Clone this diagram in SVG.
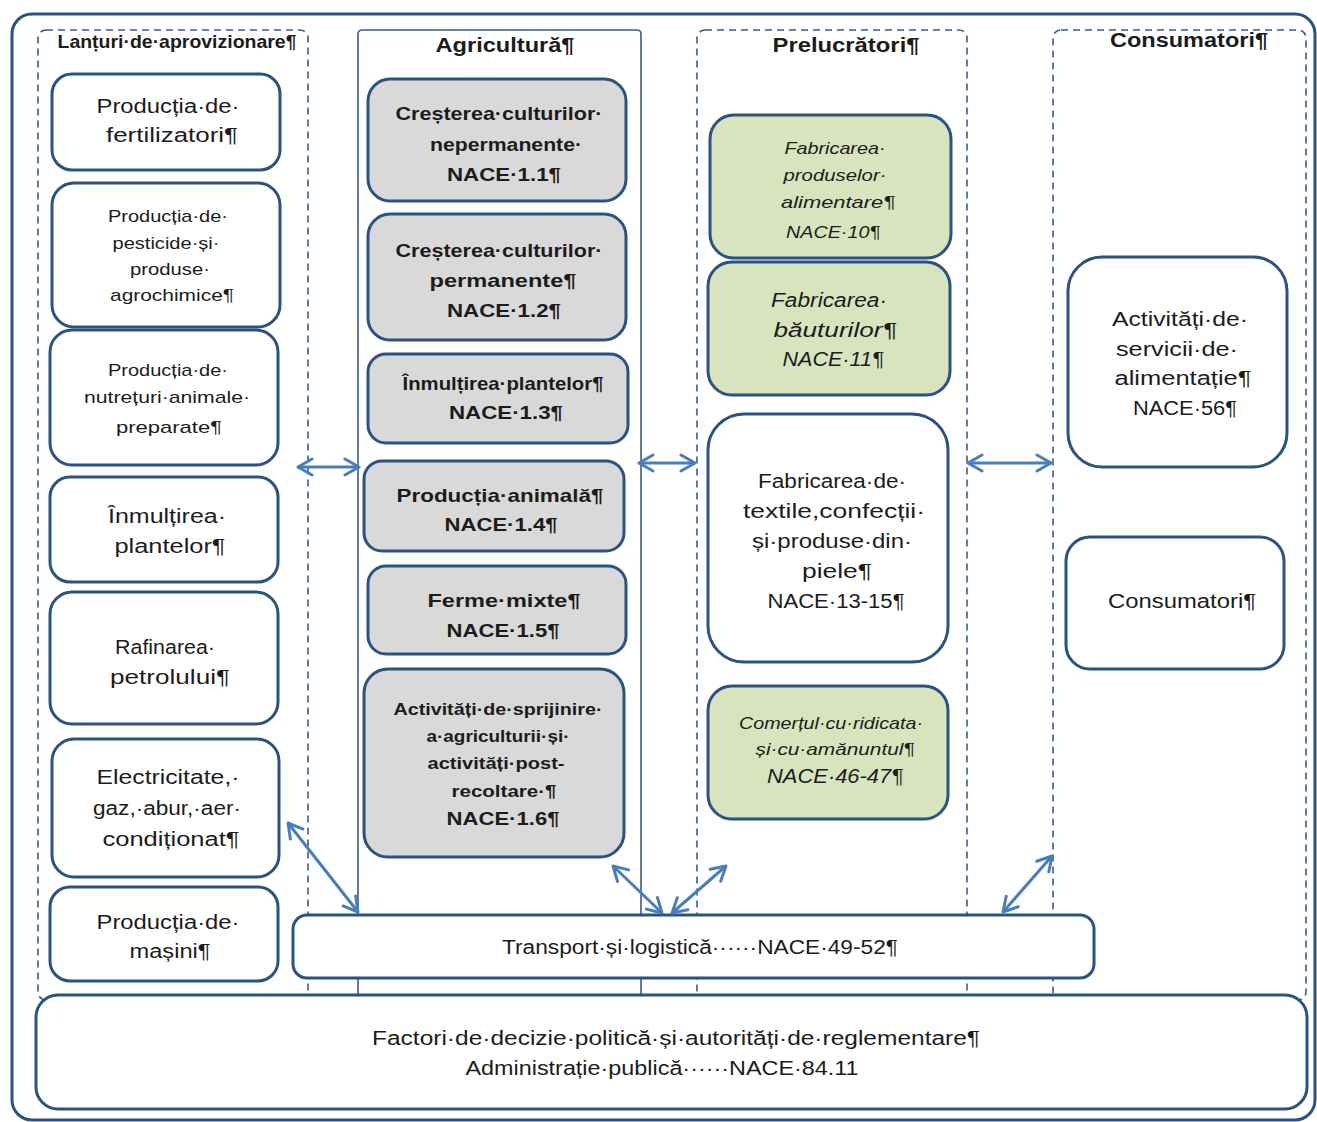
<svg xmlns="http://www.w3.org/2000/svg" width="1317" height="1122" viewBox="0 0 1317 1122">
<defs>
<style>
.t{font-family:"Liberation Sans",Arial,sans-serif;font-size:19.5px;fill:#1c1c1c;text-anchor:middle}
.s{font-size:17px}
.b{font-weight:bold;font-size:18.5px}
.b.s{font-size:16.5px}
.i{font-style:italic}
.tt{font-weight:bold;font-size:20px}
.box{fill:#fff;stroke:#2c5282;stroke-width:3}
.gray{fill:#d9d9d9;stroke:#2c5282;stroke-width:3}
.green{fill:#d7e4bd;stroke:#2c5282;stroke-width:3}
.dash{fill:none;stroke:#3a5a8c;stroke-width:1.6;stroke-dasharray:7 5}
.solid{fill:none;stroke:#3a5a8c;stroke-width:1.6}
.arr{fill:none;stroke:#4a7ebb;stroke-width:3;marker-start:url(#ah);marker-end:url(#ah)}
</style>
<marker id="ah" viewBox="0 0 18 20" refX="16" refY="10" markerWidth="18" markerHeight="20" markerUnits="userSpaceOnUse" orient="auto-start-reverse">
<path d="M2,2 L16,10 L2,18" fill="none" stroke="#4a7ebb" stroke-width="3" stroke-linecap="round" stroke-linejoin="round"/>
</marker>
</defs>
<rect x="0" y="0" width="1317" height="1122" fill="#fff"/>
<rect x="12" y="14" width="1303" height="1106" rx="20" fill="none" stroke="#2c5282" stroke-width="3"/>

<g id="col-lanturi">
<rect class="dash" x="38" y="30" width="270" height="970" rx="8"/>
<text class="t b" x="177" y="48" font-size="16" textLength="239" lengthAdjust="spacingAndGlyphs">Lanțuri·de·aprovizionare¶</text>
</g>
<g id="col-agricultura">
<rect class="solid" x="358" y="30" width="283" height="970" rx="4"/>
<text class="t tt" x="505" y="52" textLength="139" lengthAdjust="spacingAndGlyphs">Agricultură¶</text>
</g>
<g id="col-prelucratori">
<rect class="dash" x="697" y="30" width="270" height="970" rx="8"/>
<text class="t tt" x="846" y="52" textLength="147" lengthAdjust="spacingAndGlyphs">Prelucrători¶</text>
</g>
<g id="col-consumatori">
<rect class="dash" x="1053" y="30" width="253" height="970" rx="8"/>
<text class="t tt" x="1189" y="47" textLength="158" lengthAdjust="spacingAndGlyphs">Consumatori¶</text>
</g>

<g id="n-fertilizatori">
<rect class="box" x="52" y="74" width="228" height="96" rx="20"/>
<text class="t" x="168" y="113" textLength="143" lengthAdjust="spacingAndGlyphs">Producția·de·</text>
<text class="t" x="172" y="142" textLength="132" lengthAdjust="spacingAndGlyphs">fertilizatori¶</text>
</g>
<g id="n-pesticide">
<rect class="box" x="52" y="183" width="228" height="144" rx="22"/>
<text class="t s" x="168" y="222" textLength="120" lengthAdjust="spacingAndGlyphs">Producția·de·</text>
<text class="t s" x="166" y="249" textLength="107" lengthAdjust="spacingAndGlyphs">pesticide·și·</text>
<text class="t s" x="170" y="275" textLength="80" lengthAdjust="spacingAndGlyphs">produse·</text>
<text class="t s" x="172" y="301" textLength="124" lengthAdjust="spacingAndGlyphs">agrochimice¶</text>
</g>
<g id="n-nutreturi">
<rect class="box" x="50" y="330" width="228" height="135" rx="22"/>
<text class="t s" x="168" y="376" textLength="120" lengthAdjust="spacingAndGlyphs">Producția·de·</text>
<text class="t s" x="167" y="403" textLength="166" lengthAdjust="spacingAndGlyphs">nutrețuri·animale·</text>
<text class="t s" x="169" y="433" textLength="106" lengthAdjust="spacingAndGlyphs">preparate¶</text>
</g>
<g id="n-inmultirea">
<rect class="box" x="50" y="477" width="228" height="105" rx="20"/>
<text class="t" x="167" y="523" textLength="118" lengthAdjust="spacingAndGlyphs">Înmulțirea·</text>
<text class="t" x="170" y="553" textLength="111" lengthAdjust="spacingAndGlyphs">plantelor¶</text>
</g>
<g id="n-rafinarea">
<rect class="box" x="50" y="592" width="228" height="132" rx="22"/>
<text class="t" x="165" y="654" textLength="100" lengthAdjust="spacingAndGlyphs">Rafinarea·</text>
<text class="t" x="170" y="684" textLength="120" lengthAdjust="spacingAndGlyphs">petrolului¶</text>
</g>
<g id="n-electricitate">
<rect class="box" x="52" y="739" width="227" height="138" rx="22"/>
<text class="t" x="168" y="784" textLength="143" lengthAdjust="spacingAndGlyphs">Electricitate,·</text>
<text class="t" x="167" y="815" textLength="148" lengthAdjust="spacingAndGlyphs">gaz,·abur,·aer·</text>
<text class="t" x="171" y="846" textLength="137" lengthAdjust="spacingAndGlyphs">condiționat¶</text>
</g>
<g id="n-masini">
<rect class="box" x="50" y="887" width="228" height="94" rx="20"/>
<text class="t" x="168" y="929" textLength="143" lengthAdjust="spacingAndGlyphs">Producția·de·</text>
<text class="t" x="170" y="958" textLength="81" lengthAdjust="spacingAndGlyphs">mașini¶</text>
</g>

<g id="n-nace11">
<rect class="gray" x="368" y="79" width="258" height="122" rx="22"/>
<text class="t b" x="499" y="120" textLength="207" lengthAdjust="spacingAndGlyphs">Creșterea·culturilor·</text>
<text class="t b" x="506" y="151" textLength="152" lengthAdjust="spacingAndGlyphs">nepermanente·</text>
<text class="t b" x="504" y="181" textLength="114" lengthAdjust="spacingAndGlyphs">NACE·1.1¶</text>
</g>
<g id="n-nace12">
<rect class="gray" x="368" y="214" width="258" height="126" rx="22"/>
<text class="t b" x="499" y="257" textLength="207" lengthAdjust="spacingAndGlyphs">Creșterea·culturilor·</text>
<text class="t b" x="503" y="287" textLength="147" lengthAdjust="spacingAndGlyphs">permanente¶</text>
<text class="t b" x="504" y="317" textLength="114" lengthAdjust="spacingAndGlyphs">NACE·1.2¶</text>
</g>
<g id="n-nace13">
<rect class="gray" x="368" y="354" width="260" height="89" rx="18"/>
<text class="t b" x="503" y="390" textLength="201" lengthAdjust="spacingAndGlyphs">Înmulțirea·plantelor¶</text>
<text class="t b" x="506" y="419" textLength="114" lengthAdjust="spacingAndGlyphs">NACE·1.3¶</text>
</g>
<g id="n-nace14">
<rect class="gray" x="364" y="461" width="260" height="90" rx="18"/>
<text class="t b" x="500" y="502" textLength="207" lengthAdjust="spacingAndGlyphs">Producția·animală¶</text>
<text class="t b" x="501" y="531" textLength="113" lengthAdjust="spacingAndGlyphs">NACE·1.4¶</text>
</g>
<g id="n-nace15">
<rect class="gray" x="368" y="566" width="258" height="88" rx="18"/>
<text class="t b" x="504" y="607" textLength="153" lengthAdjust="spacingAndGlyphs">Ferme·mixte¶</text>
<text class="t b" x="503" y="637" textLength="113" lengthAdjust="spacingAndGlyphs">NACE·1.5¶</text>
</g>
<g id="n-nace16">
<rect class="gray" x="364" y="669" width="260" height="188" rx="24"/>
<text class="t b s" x="498" y="715" textLength="209" lengthAdjust="spacingAndGlyphs">Activități·de·sprijinire·</text>
<text class="t b s" x="498" y="742" textLength="143" lengthAdjust="spacingAndGlyphs">a·agriculturii·și·</text>
<text class="t b s" x="496" y="769" textLength="137" lengthAdjust="spacingAndGlyphs">activități·post-</text>
<text class="t b s" x="504" y="797" textLength="105" lengthAdjust="spacingAndGlyphs">recoltare·¶</text>
<text class="t b" x="503" y="825" textLength="113" lengthAdjust="spacingAndGlyphs">NACE·1.6¶</text>
</g>

<g id="n-nace10">
<rect class="green" x="710" y="115" width="241" height="143" rx="24"/>
<text class="t i s" x="835" y="154" textLength="101" lengthAdjust="spacingAndGlyphs">Fabricarea·</text>
<text class="t i s" x="835" y="181" textLength="103" lengthAdjust="spacingAndGlyphs">produselor·</text>
<text class="t i s" x="838" y="208" textLength="114" lengthAdjust="spacingAndGlyphs">alimentare¶</text>
<text class="t i s" x="833" y="238" textLength="94" lengthAdjust="spacingAndGlyphs">NACE·10¶</text>
</g>
<g id="n-nace11b">
<rect class="green" x="708" y="262" width="242" height="133" rx="24"/>
<text class="t i" x="829" y="307" textLength="116" lengthAdjust="spacingAndGlyphs">Fabricarea·</text>
<text class="t i" x="835" y="337" textLength="123" lengthAdjust="spacingAndGlyphs">băuturilor¶</text>
<text class="t i" x="833" y="366" textLength="101" lengthAdjust="spacingAndGlyphs">NACE·11¶</text>
</g>
<g id="n-textile">
<rect class="box" x="708" y="414" width="240" height="248" rx="36"/>
<text class="t" x="832" y="488" textLength="148" lengthAdjust="spacingAndGlyphs">Fabricarea·de·</text>
<text class="t" x="834" y="518" textLength="182" lengthAdjust="spacingAndGlyphs">textile,confecții·</text>
<text class="t" x="832" y="548" textLength="160" lengthAdjust="spacingAndGlyphs">și·produse·din·</text>
<text class="t" x="837" y="578" textLength="70" lengthAdjust="spacingAndGlyphs">piele¶</text>
<text class="t" x="836" y="608" textLength="137" lengthAdjust="spacingAndGlyphs">NACE·13-15¶</text>
</g>
<g id="n-comert">
<rect class="green" x="708" y="686" width="240" height="133" rx="24"/>
<text class="t i s" x="831" y="729" textLength="184" lengthAdjust="spacingAndGlyphs">Comerțul·cu·ridicata·</text>
<text class="t i s" x="835" y="755" textLength="159" lengthAdjust="spacingAndGlyphs">și·cu·amănuntul¶</text>
<text class="t i" x="835" y="783" textLength="136" lengthAdjust="spacingAndGlyphs">NACE·46-47¶</text>
</g>

<g id="n-alimentatie">
<rect class="box" x="1068" y="257" width="219" height="210" rx="34"/>
<text class="t" x="1180" y="326" textLength="136" lengthAdjust="spacingAndGlyphs">Activități·de·</text>
<text class="t" x="1177" y="356" textLength="122" lengthAdjust="spacingAndGlyphs">servicii·de·</text>
<text class="t" x="1183" y="385" textLength="137" lengthAdjust="spacingAndGlyphs">alimentație¶</text>
<text class="t" x="1185" y="415" textLength="104" lengthAdjust="spacingAndGlyphs">NACE·56¶</text>
</g>
<g id="n-consumatori">
<rect class="box" x="1066" y="537" width="218" height="132" rx="24"/>
<text class="t" x="1182" y="608" textLength="148" lengthAdjust="spacingAndGlyphs">Consumatori¶</text>
</g>

<g id="n-transport">
<rect class="box" x="293" y="915" width="801" height="63" rx="14"/>
<text class="t" x="700" y="954" textLength="396" lengthAdjust="spacingAndGlyphs">Transport·și·logistică······NACE·49-52¶</text>
</g>
<g id="n-factori">
<rect class="box" x="36" y="995" width="1271" height="114" rx="22"/>
<text class="t" x="676" y="1045" textLength="608" lengthAdjust="spacingAndGlyphs">Factori·de·decizie·politică·și·autorități·de·reglementare¶</text>
<text class="t" x="662" y="1075" textLength="393" lengthAdjust="spacingAndGlyphs">Administrație·publică······NACE·84.11</text>
</g>

<g id="connectors">
<line class="arr" x1="298" y1="467" x2="359" y2="467"/>
<line class="arr" x1="639" y1="463" x2="695" y2="463"/>
<line class="arr" x1="968" y1="463" x2="1051" y2="463"/>
<line class="arr" x1="288" y1="823" x2="358" y2="912"/>
<line class="arr" x1="613" y1="866" x2="662" y2="913"/>
<line class="arr" x1="672" y1="913" x2="726" y2="866"/>
<line class="arr" x1="1003" y1="912" x2="1052" y2="856"/>
</g>
</svg>
